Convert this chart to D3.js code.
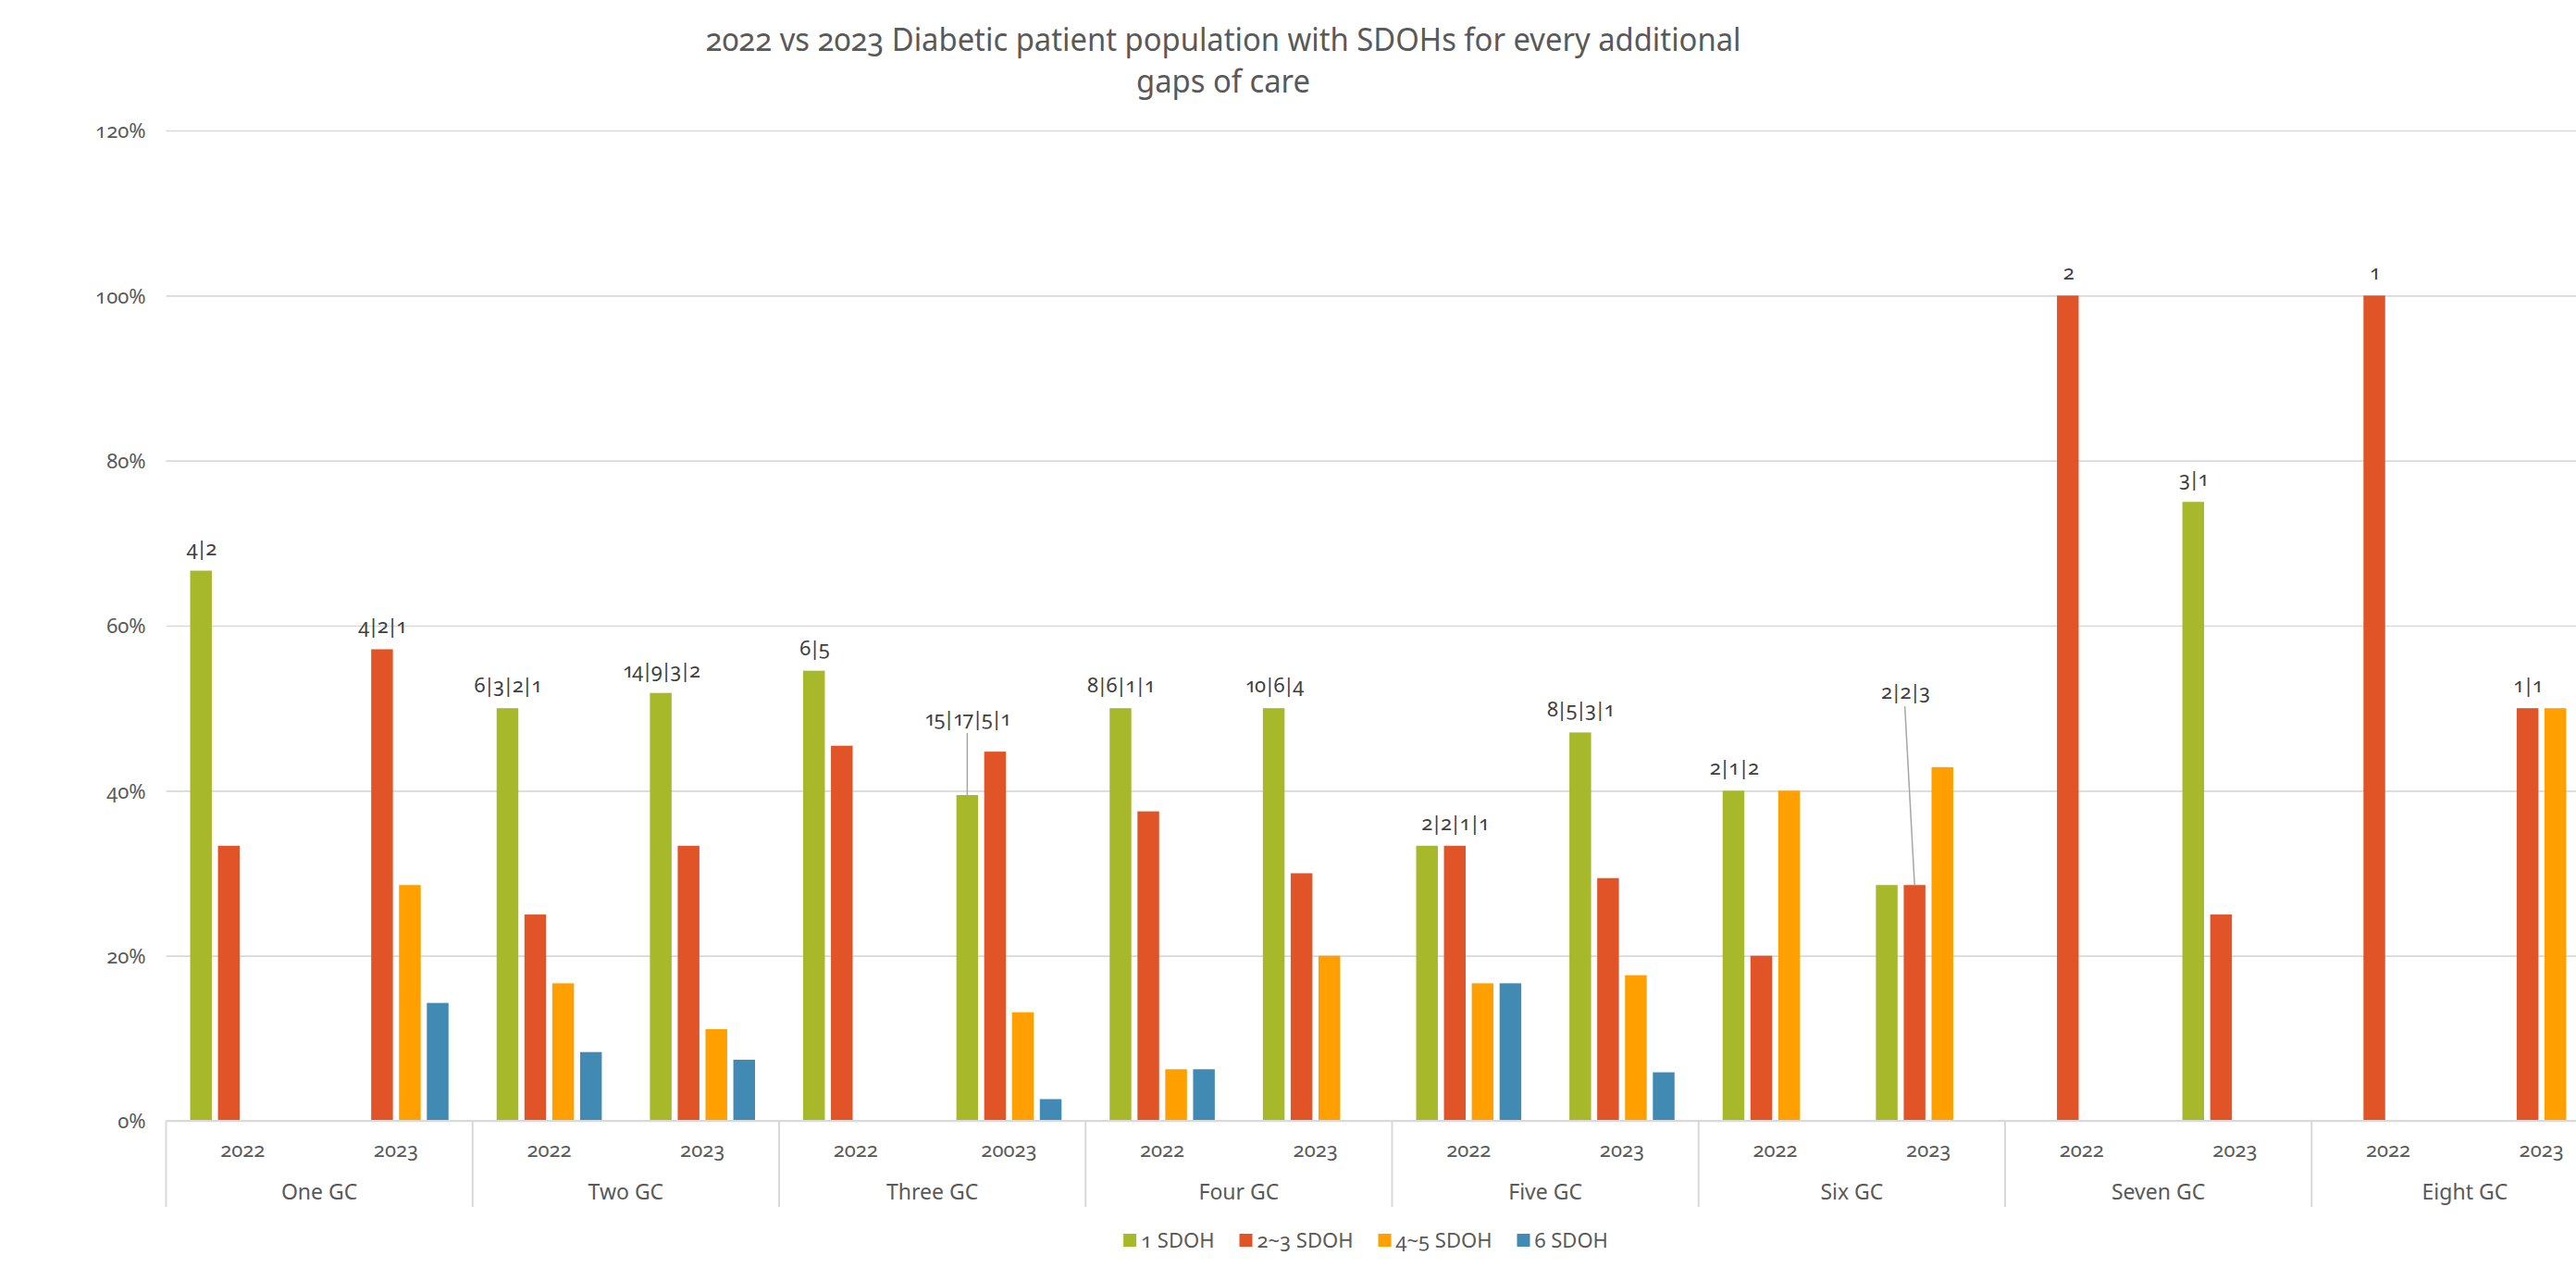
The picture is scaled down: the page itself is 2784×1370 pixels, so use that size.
<!DOCTYPE html>
<html>
<head>
<meta charset="utf-8">
<script src="https://cdn.jsdelivr.net/npm/d3@7"></script>
<style>
  html, body { margin: 0; padding: 0; background: #ffffff; overflow: hidden; }
  svg text { font-family: 'Noto Sans', 'Open Sans', sans-serif; font-feature-settings: 'onum' 1; }
</style>
</head>
<body>
<svg id="chart" width="2784" height="1370"></svg>
<script>
// ---- data -------------------------------------------------------------
const groups = ["One GC", "Two GC", "Three GC", "Four GC", "Five GC", "Six GC", "Seven GC", "Eight GC"];
const periodLabels = ["2022", "2023", "2022", "2023", "2022", "20023", "2022", "2023",
                      "2022", "2023", "2022", "2023", "2022", "2023", "2022", "2023"];
const seriesNames = ["1 SDOH", "2~3 SDOH", "4~5 SDOH", "6 SDOH"];
// patient counts per group/period (2022, 2023 for each group)
const sdoh1Counts  = [4, 0, 6, 14, 6, 15, 8, 10, 2, 8, 2, 2, 0, 3, 0, 0];
const sdoh23Counts = [2, 4, 3, 9, 5, 17, 6, 6, 2, 5, 1, 2, 2, 1, 1, 1];
const sdoh45Counts = [0, 2, 2, 3, 0, 5, 1, 4, 1, 3, 2, 3, 0, 0, 0, 1];
const sdoh6Counts  = [0, 1, 1, 2, 0, 1, 1, 0, 1, 1, 0, 0, 0, 0, 0, 0];
// diabetic patients in each group/period (denominator of the shares)
const patientTotals = [6, 7, 12, 27, 11, 38, 16, 20, 6, 17, 5, 7, 2, 4, 1, 2];
const yTicks = [0, 0.2, 0.4, 0.6, 0.8, 1.0, 1.2];
const titleLines = ["2022 vs 2023 Diabetic patient population with SDOHs for every additional", "gaps of care"];

// ---- styling / layout ---------------------------------------------------
const colors = ["#A7B82A", "#E05427", "#FF9F00", "#418AB3"];
const textGray = "#595959";
const labelGray = "#404040";
const gridGray = "#D9D9D9";
const plot = { left: 179.5, right: 2829.5, top: 141, bottom: 1211 };

// data-label anchors that differ from the default (first non-zero bar)
const labelPlacement = {
  5:  { series: 0, dx: 0, dy: -75, leader: true },     // Three GC, 20023
  8:  { series: 1 },                                   // Five GC, 2022
  11: { series: 1, dx: -10.5, dy: -201, leader: true } // Six GC, 2023
};

const svg = d3.select("#chart");
const countsBySeries = [sdoh1Counts, sdoh23Counts, sdoh45Counts, sdoh6Counts];
const periods = periodLabels.map((lab, i) => {
  const counts = countsBySeries.map(s => s[i]);
  return {
    index: i,
    group: groups[Math.floor(i / 2)],
    sub: i % 2,
    label: lab,
    counts,
    shares: counts.map(c => c / patientTotals[i])
  };
});

// ---- scales ---------------------------------------------------------------
const x0 = d3.scaleBand().domain(groups).range([plot.left, plot.right]);
const x1 = d3.scaleBand().domain([0, 1]).range([0, x0.bandwidth()]);
const x2 = d3.scaleBand().domain(d3.range(seriesNames.length))
  .range([26, x1.bandwidth() - 26]).paddingInner(0.22);
const y = d3.scaleLinear().domain([0, 1.2]).range([plot.bottom, plot.top]);

const barX = (p, s) => x0(p.group) + x1(p.sub) + x2(s);

// ---- gridlines + value axis ---------------------------------------------
const yAxis = d3.axisLeft(y)
  .tickValues(yTicks)
  .tickFormat(d3.format(".0%"))
  .tickSize(-(plot.right - plot.left))
  .tickPadding(22);

const yg = svg.append("g").attr("transform", `translate(${plot.left},0)`).call(yAxis);
yg.select(".domain").remove();
yg.selectAll(".tick line").attr("stroke", gridGray).attr("stroke-width", 1.6);
yg.selectAll(".tick text")
  .attr("fill", textGray)
  .style("font-size", "22px")
  .attr("dy", "0.36em");

// ---- bars ---------------------------------------------------------------
const barData = [];
periods.forEach(p => p.shares.forEach((v, s) => { if (v > 0) barData.push({ p, s, v }); }));

svg.append("g").selectAll("rect")
  .data(barData)
  .join("rect")
  .attr("x", d => barX(d.p, d.s))
  .attr("width", x2.bandwidth())
  .attr("y", d => y(d.v))
  .attr("height", d => y(0) - y(d.v))
  .attr("fill", d => colors[d.s]);

// ---- data labels (counts joined with "|") --------------------------------
const lg = svg.append("g");
periods.forEach(p => {
  const text = p.counts.filter(c => c > 0).join("|");
  const place = labelPlacement[p.index] || {};
  const s = place.series !== undefined ? place.series : p.counts.findIndex(c => c > 0);
  const cx = barX(p, s) + x2.bandwidth() / 2;
  const top = y(p.shares[s]);
  const lx = cx + (place.dx || 0);
  const ly = place.dy !== undefined ? top + place.dy : top - 17;
  if (place.leader) {
    lg.append("line")
      .attr("x1", lx).attr("y1", ly + 8)
      .attr("x2", cx).attr("y2", top)
      .attr("stroke", "#A6A6A6").attr("stroke-width", 1.5);
  }
  lg.append("text")
    .attr("x", lx).attr("y", ly)
    .attr("text-anchor", "middle")
    .attr("fill", labelGray)
    .style("font-size", "22px")
    .style("letter-spacing", "-1.8px")
    .text(text);
});

// ---- category axis (two levels) ------------------------------------------
const cat = svg.append("g");
cat.append("line")
  .attr("x1", plot.left).attr("x2", plot.right)
  .attr("y1", plot.bottom).attr("y2", plot.bottom)
  .attr("stroke", gridGray).attr("stroke-width", 2);

const boundaries = groups.map(g => x0(g)).concat([plot.right]);
cat.selectAll("line.sep")
  .data(boundaries)
  .join("line")
  .attr("class", "sep")
  .attr("x1", d => d).attr("x2", d => d)
  .attr("y1", plot.bottom).attr("y2", 1304)
  .attr("stroke", gridGray).attr("stroke-width", 2);

cat.selectAll("text.period")
  .data(periods)
  .join("text")
  .attr("class", "period")
  .attr("x", p => x0(p.group) + x1(p.sub) + x1.bandwidth() / 2)
  .attr("y", 1250)
  .attr("text-anchor", "middle")
  .attr("fill", textGray)
  .style("font-size", "22px")
  .text(p => p.label);

cat.selectAll("text.group")
  .data(groups)
  .join("text")
  .attr("class", "group")
  .attr("x", g => x0(g) + x0.bandwidth() / 2)
  .attr("y", 1296)
  .attr("text-anchor", "middle")
  .attr("fill", textGray)
  .style("font-size", "23px")
  .text(g => g);

// ---- title ----------------------------------------------------------------
const titleX = 1322;
const t1 = svg.append("text")
  .attr("x", titleX).attr("y", 55)
  .attr("text-anchor", "middle")
  .attr("fill", textGray)
  .style("font-size", "34px")
  .text(titleLines[0]);
const t2 = svg.append("text")
  .attr("x", titleX).attr("y", 100)
  .attr("text-anchor", "middle")
  .attr("fill", textGray)
  .style("font-size", "34px")
  .text(titleLines[1]);
const natural1 = t1.node().getComputedTextLength();
const squeeze = Math.min(1, 1119 / natural1);
if (squeeze < 1) {
  t1.attr("textLength", natural1 * squeeze).attr("lengthAdjust", "spacingAndGlyphs");
  const natural2 = t2.node().getComputedTextLength();
  t2.attr("textLength", natural2 * squeeze).attr("lengthAdjust", "spacingAndGlyphs");
}

// ---- legend -----------------------------------------------------------------
const legend = svg.append("g");
const items = seriesNames.map((name, i) => {
  const g = legend.append("g");
  g.append("rect").attr("width", 14).attr("height", 14).attr("y", 1333).attr("fill", colors[i]);
  const t = g.append("text")
    .attr("x", 19).attr("y", 1348)
    .attr("fill", textGray)
    .style("font-size", "22px")
    .text(name);
  return { g, w: 19 + t.node().getComputedTextLength() };
});
const gap = 27;
const totalW = d3.sum(items, d => d.w) + gap * (items.length - 1);
let cursor = 1476 - totalW / 2;
items.forEach(it => {
  it.g.attr("transform", `translate(${cursor},0)`);
  cursor += it.w + gap;
});
</script>
</body>
</html>
